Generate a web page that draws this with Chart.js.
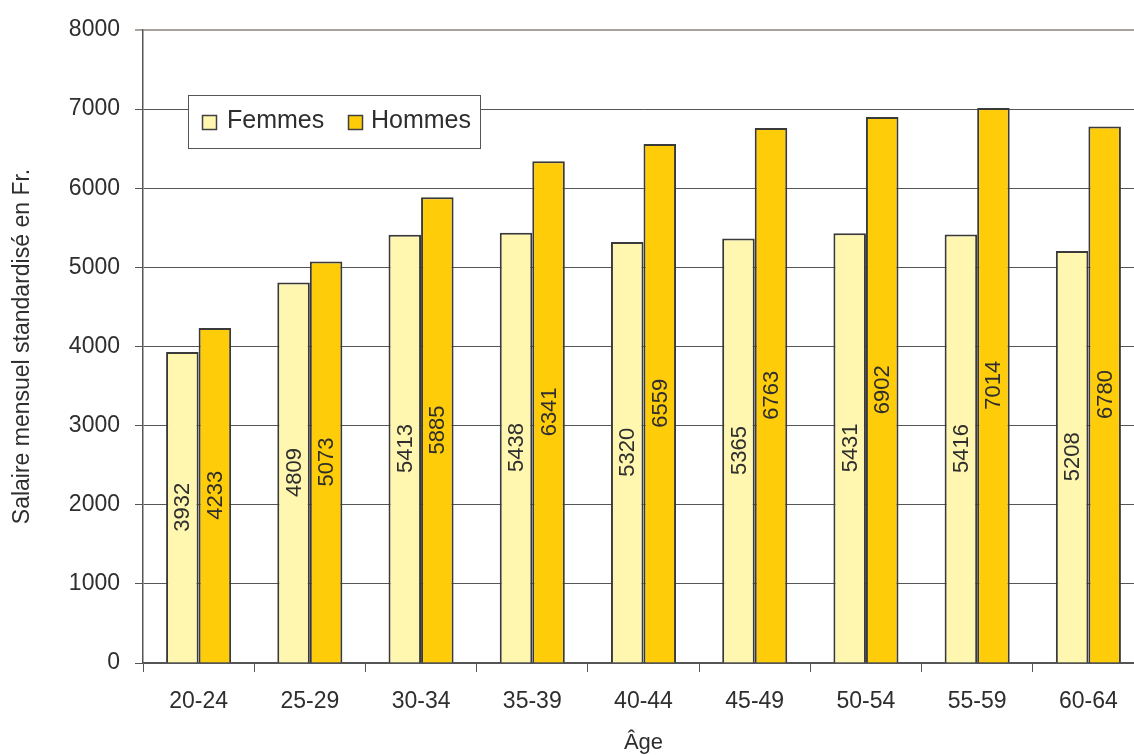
<!DOCTYPE html>
<html lang="fr">
<head>
<meta charset="utf-8">
<title>Salaire mensuel standardisé selon l'âge</title>
<script src="https://cdn.jsdelivr.net/npm/chart.js@4"></script>
<style>
    html, body { margin: 0; padding: 0; background: #fff; overflow: hidden; }
    #wrap { width: 1146px; height: 756px; }
</style>
</head>
<body>
<div id="wrap"><canvas id="salaryChart" width="1146" height="756"></canvas></div>
<script>
// Age groups and monthly salaries (Fr.)
const ageGroups = ['20-24', '25-29', '30-34', '35-39', '40-44', '45-49', '50-54', '55-59', '60-64'];
const femmes = [3932, 4809, 5413, 5438, 5320, 5365, 5431, 5416, 5208];
const hommes = [4233, 5073, 5885, 6341, 6559, 6763, 6902, 7014, 6780];
const yTicks = [0, 1000, 2000, 3000, 4000, 5000, 6000, 7000, 8000];

const FONT = "'Liberation Sans', Arial, sans-serif";
const TEXT = '#2e2e2e';
const LINE = '#555555';

// Values written vertically in the middle of each bar
const barValues = {
    id: 'barValues',
    afterDatasetsDraw(chart) {
        const ctx = chart.ctx;
        ctx.save();
        ctx.font = '22px ' + FONT;
        ctx.fillStyle = TEXT;
        ctx.textAlign = 'center';
        ctx.textBaseline = 'middle';
        chart.data.datasets.forEach((ds, i) => {
            chart.getDatasetMeta(i).data.forEach((bar, j) => {
                const mid = (bar.y + bar.base) / 2;
                ctx.save();
                ctx.translate(bar.x, mid);
                ctx.rotate(-Math.PI / 2);
                ctx.fillText(String(ds.data[j]), 0, 1);
                ctx.restore();
            });
        });
        ctx.restore();
    }
};

// Boxed legend floating in the upper left of the plot
const boxLegend = {
    id: 'boxLegend',
    afterDraw(chart) {
        const ctx = chart.ctx;
        const box = { x: 188.5, y: 95.5, w: 292, h: 53 };
        const items = [{ mark: 202, text: 227 }, { mark: 348, text: 371 }];
        ctx.save();
        ctx.fillStyle = '#fff';
        ctx.fillRect(box.x, box.y, box.w, box.h);
        ctx.strokeStyle = LINE;
        ctx.lineWidth = 1;
        ctx.strokeRect(box.x, box.y, box.w, box.h);
        ctx.font = '25px ' + FONT;
        ctx.textBaseline = 'middle';
        chart.data.datasets.forEach((ds, i) => {
            const it = items[i];
            ctx.fillStyle = ds.backgroundColor;
            ctx.fillRect(it.mark + 0.5, 115.5, 14, 14);
            ctx.strokeStyle = '#404040';
            ctx.lineWidth = 1.5;
            ctx.strokeRect(it.mark + 0.5, 115.5, 14, 14);
            ctx.fillStyle = TEXT;
            ctx.fillText(ds.label, it.text, 121);
        });
        ctx.restore();
    }
};

new Chart(document.getElementById('salaryChart'), {
    type: 'bar',
    data: {
        labels: ageGroups,
        datasets: [
            {
                label: 'Femmes',
                data: femmes,
                backgroundColor: '#FFF6B0',
                borderColor: '#3a3a3a',
                borderWidth: 2
            },
            {
                label: 'Hommes',
                data: hommes,
                backgroundColor: '#FFCC0A',
                borderColor: '#3a3a3a',
                borderWidth: 2
            }
        ]
    },
    options: {
        responsive: false,
        animation: false,
        layout: { padding: { top: 30, right: 2, left: 0, bottom: 0 } },
        datasets: {
            bar: { categoryPercentage: 0.585, barPercentage: 1 }
        },
        plugins: {
            legend: { display: false },
            tooltip: { enabled: false }
        },
        scales: {
            x: {
                grid: {
                    drawOnChartArea: false,
                    drawTicks: true,
                    tickLength: 9,
                    color: LINE
                },
                border: { color: LINE, width: 1.5 },
                ticks: {
                    color: TEXT,
                    font: { family: FONT, size: 23 },
                    padding: 16
                },
                title: {
                    display: true,
                    text: 'Âge',
                    color: TEXT,
                    font: { family: FONT, size: 22 },
                    padding: { top: 4, bottom: 0 }
                },
                afterFit(scale) { scale.height = 93; }
            },
            y: {
                min: 0,
                max: 8000,
                afterBuildTicks(scale) {
                    scale.ticks = yTicks.map(v => ({ value: v }));
                },
                grid: {
                    color: ctx => ctx.tick && ctx.tick.value === 8000 ? '#aaa29c' : LINE,
                    lineWidth: ctx => ctx.tick && ctx.tick.value === 8000 ? 2 : 1,
                    tickLength: 8
                },
                border: { color: LINE, width: 1.5 },
                ticks: {
                    color: TEXT,
                    font: { family: FONT, size: 23 },
                    padding: 15,
                    callback: v => String(v)
                },
                title: {
                    display: true,
                    text: 'Salaire mensuel standardisé en Fr.',
                    color: TEXT,
                    font: { family: FONT, size: 23 },
                    padding: { top: 9, bottom: 0 }
                },
                afterFit(scale) { scale.width = 143; }
            }
        }
    },
    plugins: [barValues, boxLegend]
});
</script>
</body>
</html>
